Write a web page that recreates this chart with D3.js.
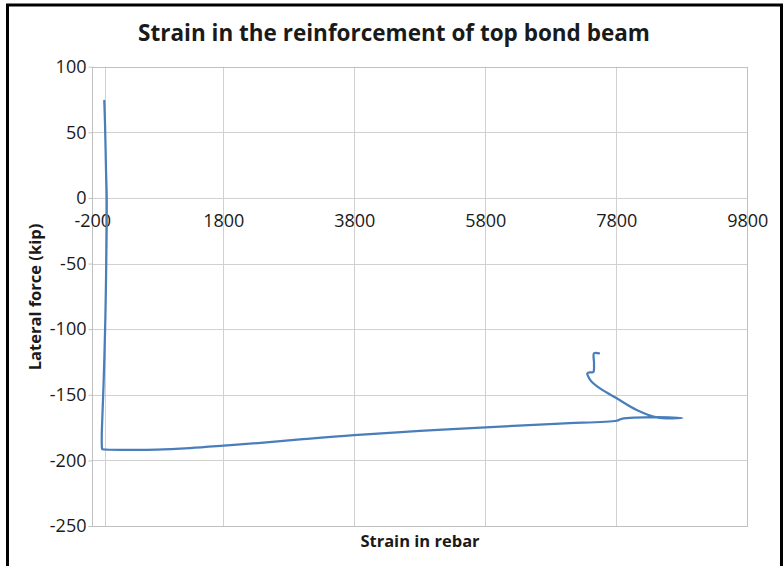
<!DOCTYPE html>
<html>
<head>
<meta charset="utf-8">
<script src="https://cdn.jsdelivr.net/npm/d3@7"></script>
<style>
  html, body { margin: 0; padding: 0; background: #fff; }
  svg { display: block; }
  text { font-family: "Open Sans", "Noto Sans", sans-serif; fill: #1a1a1a; }
</style>
</head>
<body>
<script>
// Strain gauge reading (microstrain) vs. lateral force (kip), in load order
const strain = [
  -17, -5, 10, 20, 18, 10, 0, -15, -30, -45, -55, -55, -50,
  -43, 376, 783, 1291, 1806, 2330, 2971, 3795, 4803, 5806, 6940, 7806, 7882, 8424, 8808,
  8416, 8111, 7806, 7551, 7424, 7373, 7357, 7398, 7449, 7460, 7460, 7536
];
const force = [
  74, 55, 20, 0, -30, -60, -90, -120, -145, -165, -180, -188, -191.3,
  -191.5, -192.0, -191.8, -190.6, -188.8, -186.8, -184.0, -180.7, -177.6, -174.8, -171.9, -169.8, -168.3, -167.0, -167.7,
  -167.2, -161.6, -152.7, -145.1, -140.1, -136.2, -133.7, -132.9, -132.7, -126, -118.4, -118.4
];

const xTicks = [-200, 1800, 3800, 5800, 7800, 9800];
const yTicks = [-250, -200, -150, -100, -50, 0, 50, 100];

const chartTitle = "Strain in the reinforcement of top bond beam";
const xTitle = "Strain in rebar";
const yTitle = "Lateral force (kip)";

const W = 783, H = 566;
const plot = { left: 92.3, right: 747.3, top: 66.7, bottom: 526 };

const svg = d3.select("body").append("svg")
  .attr("width", W).attr("height", H);

const x = d3.scaleLinear().domain([-200, 9800]).range([plot.left, plot.right]);
const y = d3.scaleLinear().domain([-250, 100]).range([plot.bottom, plot.top]);

// outer frame
svg.append("rect")
  .attr("x", 7.5).attr("y", 5)
  .attr("width", 774).attr("height", 640)
  .attr("fill", "none").attr("stroke", "#000").attr("stroke-width", 3);

// gridlines
const grid = svg.append("g").attr("stroke", "#d0d0d0").attr("stroke-width", 1);
grid.selectAll("line.h").data(yTicks).join("line")
  .attr("x1", plot.left).attr("x2", plot.right)
  .attr("y1", d => Math.round(y(d)) + 0.5).attr("y2", d => Math.round(y(d)) + 0.5);
grid.selectAll("line.v").data(xTicks.concat([0])).join("line")
  .attr("y1", plot.top).attr("y2", plot.bottom)
  .attr("x1", d => Math.round(x(d)) + 0.5).attr("x2", d => Math.round(x(d)) + 0.5);

// plot border
svg.append("rect")
  .attr("x", Math.round(plot.left) + 0.5).attr("y", Math.round(plot.top) + 0.5)
  .attr("width", Math.round(plot.right) - Math.round(plot.left))
  .attr("height", Math.round(plot.bottom) - Math.round(plot.top))
  .attr("fill", "none").attr("stroke", "#c0c0c0");

const plain = d => String(d);

// y axis (left side)
const yAxis = d3.axisLeft(y).tickValues(yTicks).tickSize(4).tickPadding(2).tickFormat(plain);
const gy = svg.append("g").attr("transform", `translate(${Math.round(plot.left) + 0.5},0)`).call(yAxis);
gy.select(".domain").remove();
gy.selectAll(".tick line").attr("stroke", "#c0c0c0");
gy.selectAll(".tick text").attr("font-size", 18).attr("fill", "#1a1a1a")
  .attr("font-family", "'Open Sans', sans-serif");

// x axis labels sit below the zero-force line
const xAxis = d3.axisBottom(x).tickValues(xTicks).tickSize(0).tickPadding(16).tickFormat(plain);
const gx = svg.append("g").attr("transform", `translate(0,${y(0)})`).call(xAxis);
gx.select(".domain").remove();
gx.selectAll(".tick text").attr("font-size", 18).attr("fill", "#1a1a1a")
  .attr("font-family", "'Open Sans', sans-serif");

// data series
const pts = strain.map((s, i) => [s, force[i]]);
svg.append("path")
  .datum(pts)
  .attr("fill", "none")
  .attr("stroke", "#4a7ebb")
  .attr("stroke-width", 2.25)
  .attr("stroke-linejoin", "round")
  .attr("stroke-linecap", "round")
  .attr("d", d3.line().x(d => x(d[0])).y(d => y(d[1])).curve(d3.curveCatmullRom.alpha(0.5)));

// titles
svg.append("text")
  .attr("x", 394).attr("y", 41)
  .attr("text-anchor", "middle")
  .attr("font-size", 22.5).attr("font-weight", "bold")
  .text(chartTitle);

svg.append("text")
  .attr("x", 420).attr("y", 547)
  .attr("text-anchor", "middle")
  .attr("font-size", 16.5).attr("font-weight", "bold")
  .text(xTitle);

svg.append("text")
  .attr("transform", "translate(41,297) rotate(-90)")
  .attr("text-anchor", "middle")
  .attr("font-size", 16.5).attr("font-weight", "bold")
  .text(yTitle);
</script>
</body>
</html>
